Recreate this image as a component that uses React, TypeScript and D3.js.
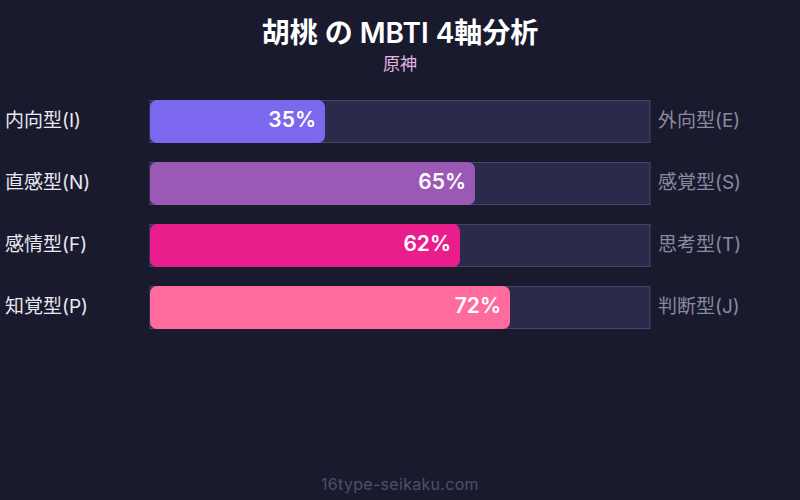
import { useRef, useEffect } from 'react'
import * as d3 from 'd3'

const leftLabels = ['内向型(I)', '直感型(N)', '感情型(F)', '知覚型(P)']
const rightLabels = ['外向型(E)', '感覚型(S)', '思考型(T)', '判断型(J)']
const percents = [35, 65, 62, 72]
const barColors = ['#7b68ee', '#9b59b6', '#e91e8c', '#ff6b9d']

const FONT = 'Inter, "Noto Sans CJK JP", sans-serif'

export default function App() {
  const svgRef = useRef<SVGSVGElement>(null)

  useEffect(() => {
    if (!svgRef.current) return
    const svg = d3.select(svgRef.current)
    svg.selectAll('*').remove()

    const width = 800
    const height = 500

    svg.append('rect').attr('width', width).attr('height', height).attr('fill', '#1a1a2e')

    // Title
    svg.append('text')
      .attr('x', width / 2).attr('y', 43)
      .attr('text-anchor', 'middle')
      .style('font-family', FONT).style('font-size', '28px').style('font-weight', '600')
      .style('fill', '#ffffff')
      .text('胡桃 の MBTI 4軸分析')

    svg.append('text')
      .attr('x', width / 2).attr('y', 70)
      .attr('text-anchor', 'middle')
      .style('font-family', FONT).style('font-size', '17px')
      .style('fill', '#e6b3e0')
      .text('原神')

    const x = d3.scaleLinear().domain([0, 100]).range([150, 650])
    const y = d3.scaleBand<number>()
      .domain(d3.range(percents.length))
      .range([100, 100 + 62 * percents.length])
    const bh = 42

    const rows = svg.selectAll('g.row')
      .data(percents)
      .join('g')
      .attr('class', 'row')
      .attr('transform', (_d, i) => `translate(0,${y(i)})`)

    // track
    rows.append('rect')
      .attr('x', x(0)).attr('y', 0.5)
      .attr('width', x(100) - x(0)).attr('height', bh)
      .attr('fill', '#2c2a4a')
      .attr('stroke', '#46446a').attr('stroke-width', 1)

    // fill
    rows.append('rect')
      .attr('x', x(0)).attr('y', 0)
      .attr('width', d => x(d) - x(0)).attr('height', bh + 1)
      .attr('rx', 7)
      .attr('fill', (_d, i) => barColors[i])

    rows.append('text')
      .attr('x', d => x(d) - 9)
      .attr('y', bh / 2 - 1)
      .attr('dy', '0.35em')
      .attr('text-anchor', 'end')
      .style('font-family', FONT).style('font-size', '21px').style('font-weight', '600')
      .style('fill', '#ffffff')
      .text(d => `${d}%`)

    rows.append('text')
      .attr('x', 5).attr('y', bh / 2 - 1)
      .attr('dy', '0.35em')
      .style('font-family', FONT).style('font-size', '19px')
      .style('fill', '#e8e8f0')
      .text((_d, i) => leftLabels[i])

    rows.append('text')
      .attr('x', 658).attr('y', bh / 2 - 1)
      .attr('dy', '0.35em')
      .style('font-family', FONT).style('font-size', '19px')
      .style('fill', '#8a8aa0')
      .text((_d, i) => rightLabels[i])

    svg.append('text')
      .attr('x', width / 2).attr('y', 490)
      .attr('text-anchor', 'middle')
      .style('font-family', FONT).style('font-size', '16px')
      .style('letter-spacing', '0.3px')
      .style('fill', '#4e4e6e')
      .text('16type-seikaku.com')
  }, [])

  return (
    <svg ref={svgRef} width={800} height={500}
      style={{ position: 'absolute', left: 0, top: 0, display: 'block' }} />
  )
}
